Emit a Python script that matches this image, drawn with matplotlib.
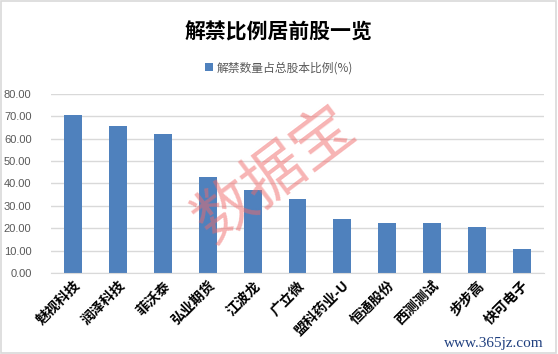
import matplotlib.pyplot as plt
from matplotlib.patches import Rectangle
import numpy as np

plt.rcParams['font.family'] = ['Noto Sans CJK SC', 'DejaVu Sans']

names = ['魅视科技', '润泽科技', '菲沃泰', '弘业期货', '江波龙', '广立微',
         '盟科药业-U', '恒通股份', '西测测试', '步步高', '快可电子']
ratio = [70.5, 65.6, 62.0, 42.9, 37.1, 33.0, 24.1, 22.3, 22.3, 20.5, 10.7]
yticks = [0, 10, 20, 30, 40, 50, 60, 70, 80]

blue = '#4f81bd'
grey = '#595959'

fig = plt.figure(figsize=(5.58, 3.54), dpi=100)
ax = fig.add_axes([0.0914, 0.2288, 0.8836, 0.5057])

x = np.arange(len(names))
bars = ax.bar(x, ratio, width=0.4, color=blue, zorder=2, label='解禁数量占总股本比例(%)')

ax.set_xlim(-0.5, len(names) - 0.5)
ax.set_ylim(0, 80)
ax.set_yticks(yticks)
ax.set_yticklabels(['%.2f' % v for v in yticks], fontsize=8, color=grey, family='Liberation Sans')
ax.set_xticks(x)
ax.set_xticklabels(names, rotation=45, ha='right', rotation_mode='anchor',
                   fontsize=10, fontweight='bold', color='black')
ax.tick_params(length=0, pad=4)
ax.tick_params(axis='y', pad=14)
ax.grid(axis='y', color='#d9d9d9', linewidth=1, zorder=0)
for s in ['top', 'right', 'left']:
    ax.spines[s].set_visible(False)
ax.spines['bottom'].set_color('#d9d9d9')

fig.text(0.5, 0.91, '解禁比例居前股一览', ha='center', va='center',
         fontsize=15, fontweight='bold')
fig.legend(handles=[bars], loc='center', bbox_to_anchor=(0.5, 0.808), frameon=False,
           fontsize=8.5, labelcolor=grey, handlelength=0.7, handleheight=0.7,
           handletextpad=0.3)

# watermarks
fig.text(0.493, 0.506, '数据宝', ha='center', va='center', rotation=37,
         fontsize=44, color='#f06a6a', alpha=0.5)
fig.text(0.885, 0.03, 'www.365jz.com', ha='center', va='center',
         fontsize=11, color='#1f3f7f', family='Liberation Serif')

fig.patches.append(Rectangle((0.002, 0.003), 0.995, 0.994, transform=fig.transFigure,
                             fill=False, edgecolor='#d9d9d9', linewidth=1.2))

plt.savefig('out.png', dpi=100)
